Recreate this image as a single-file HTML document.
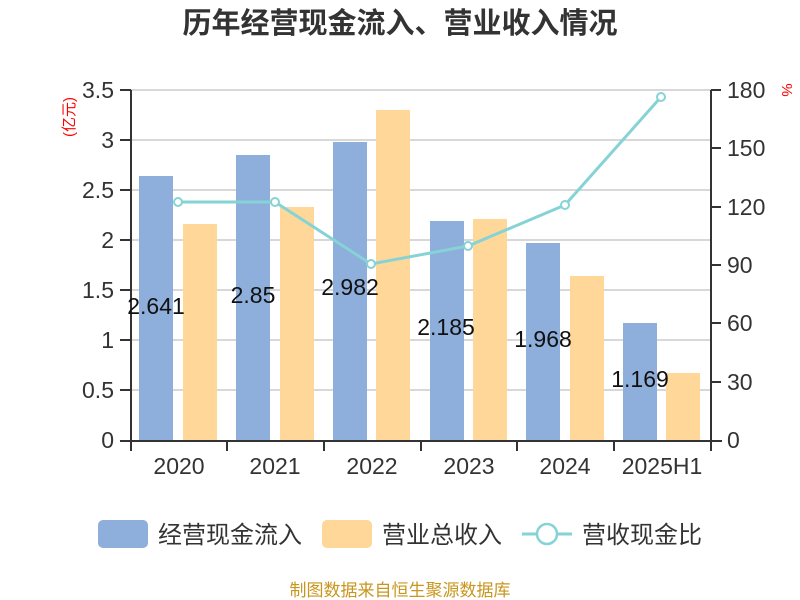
<!DOCTYPE html><html><head><meta charset="utf-8"><style>body{margin:0;background:#fff}svg{display:block;font-family:"Liberation Sans","Noto Sans CJK SC",sans-serif}</style></head><body>
<svg width="800" height="600" viewBox="0 0 800 600">
<text x="400" y="33" text-anchor="middle" font-size="29" font-weight="bold" fill="#333">历年经营现金流入、营业收入情况</text>
<g stroke="#ccc" stroke-width="1.5">
<line x1="131" y1="90" x2="711" y2="90"/><line x1="131" y1="140" x2="711" y2="140"/><line x1="131" y1="190" x2="711" y2="190"/><line x1="131" y1="240" x2="711" y2="240"/><line x1="131" y1="290" x2="711" y2="290"/><line x1="131" y1="340" x2="711" y2="340"/><line x1="131" y1="390" x2="711" y2="390"/></g>
<g fill="#8eaedb"><rect x="139" y="176" width="34" height="264"/><rect x="236" y="155" width="34" height="285"/><rect x="333" y="142" width="34" height="298"/><rect x="430" y="221" width="34" height="219"/><rect x="526" y="243" width="34" height="197"/><rect x="623" y="323" width="34" height="117"/></g>
<g fill="#ffd799"><rect x="183" y="224" width="34" height="216"/><rect x="280" y="207" width="34" height="233"/><rect x="376" y="110" width="34" height="330"/><rect x="473" y="219" width="34" height="221"/><rect x="570" y="276" width="34" height="164"/><rect x="666" y="373" width="34" height="67"/></g>
<g stroke="#333" stroke-width="2" fill="none"><line x1="131" y1="90" x2="131" y2="441"/><line x1="711" y1="90" x2="711" y2="441"/><line x1="120" y1="441" x2="722" y2="441"/>
<path d="M120 90h11M120 140h11M120 190h11M120 240h11M120 290h11M120 340h11M120 390h11M711 90h10M711 148h10M711 207h10M711 265h10M711 323h10M711 382h10M131 441v10M227 441v10M324 441v10M421 441v10M517 441v10M614 441v10M711 441v10"/></g>
<g font-size="23" fill="#333" text-anchor="end"><text x="114" y="98">3.5</text><text x="114" y="148">3</text><text x="114" y="198">2.5</text><text x="114" y="248">2</text><text x="114" y="298">1.5</text><text x="114" y="348">1</text><text x="114" y="398">0.5</text><text x="114" y="448">0</text></g>
<g font-size="23" fill="#333" text-anchor="start"><text x="727" y="98">180</text><text x="727" y="156">150</text><text x="727" y="215">120</text><text x="727" y="273">90</text><text x="727" y="331">60</text><text x="727" y="390">30</text><text x="727" y="448">0</text></g>
<text transform="translate(74,117) rotate(-90)" text-anchor="middle" font-size="15" fill="#f00">(亿元)</text>
<text transform="translate(782,90) rotate(90)" text-anchor="middle" font-size="15" fill="#f00">%</text>
<g font-size="23" fill="#333" text-anchor="middle"><text x="179" y="474">2020</text><text x="275" y="474">2021</text><text x="372" y="474">2022</text><text x="469" y="474">2023</text><text x="565" y="474">2024</text><text x="662" y="474">2025H1</text></g>
<g font-size="23" fill="#111" text-anchor="middle"><text x="156" y="314">2.641</text><text x="253" y="303">2.85</text><text x="350" y="295">2.982</text><text x="446" y="335">2.185</text><text x="543" y="347">1.968</text><text x="640" y="387">1.169</text></g>
<polyline points="178,202 275,202 371,264 468,246 565,205 661,97" fill="none" stroke="#86d3d6" stroke-width="3"/>
<g fill="#fff" stroke="#86d3d6" stroke-width="2"><circle cx="178" cy="202" r="4"/><circle cx="275" cy="202" r="4"/><circle cx="371" cy="264" r="4"/><circle cx="468" cy="246" r="4"/><circle cx="565" cy="205" r="4"/><circle cx="661" cy="97" r="4"/></g>
<rect x="98" y="520" width="50" height="28" rx="5" fill="#8eaedb"/><text x="158" y="543" font-size="24" fill="#333">经营现金流入</text>
<rect x="322" y="520" width="50" height="28" rx="5" fill="#ffd799"/><text x="382" y="543" font-size="24" fill="#333">营业总收入</text>
<line x1="522" y1="534" x2="572" y2="534" stroke="#86d3d6" stroke-width="3"/><circle cx="547" cy="534" r="10" fill="#fff" stroke="#86d3d6" stroke-width="2.5"/><text x="582" y="543" font-size="24" fill="#333">营收现金比</text>
<text x="400" y="596" text-anchor="middle" font-size="17" fill="#c8961e">制图数据来自恒生聚源数据库</text>
</svg></body></html>
